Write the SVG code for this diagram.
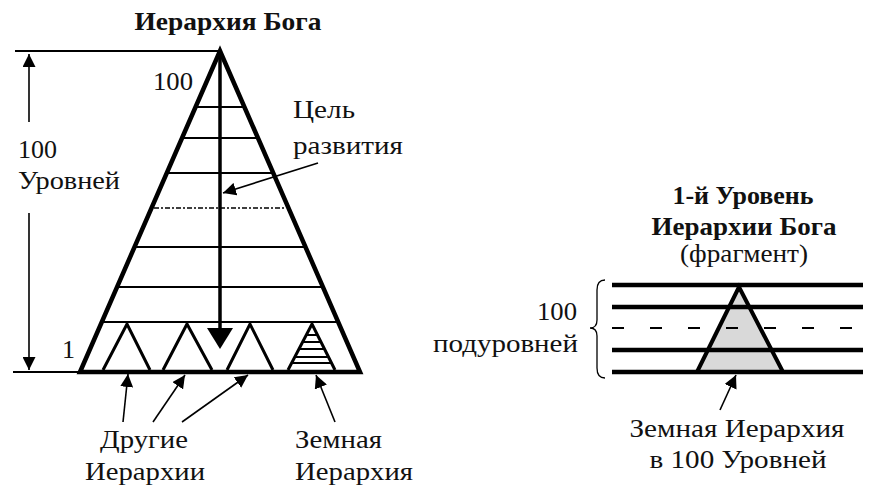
<svg xmlns="http://www.w3.org/2000/svg" width="882" height="500" viewBox="0 0 882 500">
<style>
  text { font-family: "Liberation Serif", "Times New Roman", serif; fill: #111; }
  .t { font-size: 26px; }
  .b { font-size: 26px; font-weight: bold; }
  .thick { stroke: #000; stroke-width: 4.5; fill: none; stroke-linejoin: miter; }
  .mid { stroke: #000; stroke-width: 3; fill: none; }
  .thin { stroke: #000; stroke-width: 2; fill: none; }
  .lead { stroke: #000; stroke-width: 1.6; fill: none; }
</style>
<defs>
  <marker id="ahL" viewBox="0 0 10 10" refX="10" refY="5" markerWidth="13" markerHeight="13" markerUnits="userSpaceOnUse" orient="auto">
    <path d="M0,0 L10,5 L0,10 z" fill="#000"/>
  </marker>
</defs>
<rect width="882" height="500" fill="#fff"/>

<g id="title">
  <text class="b" x="228" y="30" text-anchor="middle" textLength="187" lengthAdjust="spacingAndGlyphs">Иерархия Бога</text>
</g>

<g id="pyramid">
  <line class="thin" x1="195.6" y1="107" x2="244.4" y2="107"/>
  <line class="thin" x1="182" y1="138" x2="258" y2="138"/>
  <line class="thin" x1="167" y1="173" x2="273" y2="173"/>
  <line x1="154" y1="208" x2="286" y2="208" stroke="#000" stroke-width="1.5" stroke-dasharray="5 2 2 2"/>
  <line class="thin" x1="134.5" y1="247" x2="305.5" y2="247"/>
  <line class="thin" x1="117" y1="287" x2="323" y2="287"/>
  <line class="thin" x1="102" y1="322" x2="338" y2="322"/>
  <path class="thick" d="M80,372 L220,51 L360,372 Z"/>
  <line x1="220" y1="51" x2="220" y2="330" stroke="#000" stroke-width="3.5"/>
  <path d="M207,328 L233,328 L220,349 Z" fill="#000"/>
  <text class="t" x="153" y="90" textLength="40" lengthAdjust="spacingAndGlyphs">100</text>
  <text class="t" x="62" y="358">1</text>
</g>

<g id="sub-hierarchies">
  <path class="mid" d="M103,370 L127,324 L150,370"/>
  <path class="mid" d="M163,370 L187,324 L212,370"/>
  <path class="mid" d="M227,370 L250,324 L273,370"/>
  <path class="mid" d="M288,370 L312,324 L335,370"/>
  <g class="thin">
    <line x1="306" y1="335" x2="318" y2="335"/>
    <line x1="302.5" y1="342" x2="321.5" y2="342"/>
    <line x1="299" y1="349" x2="325" y2="349"/>
    <line x1="295" y1="357" x2="329" y2="357"/>
    <line x1="292" y1="363" x2="332" y2="363"/>
  </g>
</g>

<g id="levels-scale">
  <line class="thin" x1="15" y1="51" x2="220" y2="51"/>
  <line class="thin" x1="13" y1="372" x2="80" y2="372"/>
  <text class="t" x="18" y="158" textLength="39" lengthAdjust="spacingAndGlyphs">100</text>
  <text class="t" x="18" y="189" textLength="102" lengthAdjust="spacingAndGlyphs">Уровней</text>
</g>

<g id="goal-label">
  <text class="t" x="293" y="118" textLength="62" lengthAdjust="spacingAndGlyphs">Цель</text>
  <text class="t" x="293" y="154" textLength="110" lengthAdjust="spacingAndGlyphs">развития</text>
</g>

<g id="bottom-labels">
  <text class="t" x="100" y="448" textLength="88" lengthAdjust="spacingAndGlyphs">Другие</text>
  <text class="t" x="85" y="480" textLength="120" lengthAdjust="spacingAndGlyphs">Иерархии</text>
  <text class="t" x="295" y="448" textLength="87" lengthAdjust="spacingAndGlyphs">Земная</text>
  <text class="t" x="295" y="480" textLength="118" lengthAdjust="spacingAndGlyphs">Иерархия</text>
</g>

<g id="fragment">
  <text class="b" x="743" y="204" text-anchor="middle" textLength="141" lengthAdjust="spacingAndGlyphs">1-й Уровень</text>
  <text class="b" x="744" y="235" text-anchor="middle" textLength="185" lengthAdjust="spacingAndGlyphs">Иерархии Бога</text>
  <text class="t" x="744" y="262" text-anchor="middle" textLength="128" lengthAdjust="spacingAndGlyphs">(фрагмент)</text>
  <path d="M697,372 L739,287 L783,372 Z" fill="#d9d9d9"/>
  <g class="thick">
    <line x1="612" y1="285" x2="863" y2="285"/>
    <line x1="612" y1="307" x2="863" y2="307"/>
    <line x1="612" y1="350" x2="863" y2="350"/>
    <line x1="612" y1="372" x2="863" y2="372"/>
  </g>
  <line x1="612" y1="328" x2="863" y2="328" stroke="#000" stroke-width="2" stroke-dasharray="12 26"/>
  <path d="M697,372 L739,287 L783,372 Z" fill="none" stroke="#000" stroke-width="4"/>
  <path d="M605,280 Q597,280 597,290 L597,320 Q597,328 590,328 Q597,328 597,336 L597,368 Q597,378 605,378" stroke="#000" stroke-width="1.3" fill="none"/>
  <text class="t" x="577" y="320" text-anchor="end" textLength="40" lengthAdjust="spacingAndGlyphs">100</text>
  <text class="t" x="578" y="352" text-anchor="end" textLength="145" lengthAdjust="spacingAndGlyphs">подуровней</text>
  <text class="t" x="737" y="437" text-anchor="middle" textLength="215" lengthAdjust="spacingAndGlyphs">Земная Иерархия</text>
  <text class="t" x="738" y="468" text-anchor="middle" textLength="177" lengthAdjust="spacingAndGlyphs">в 100 Уровней</text>
</g>

<g id="connectors">
  <line class="lead" x1="29" y1="122" x2="29" y2="54" marker-end="url(#ahL)"/>
  <line class="lead" x1="29" y1="213" x2="29" y2="370" marker-end="url(#ahL)"/>
  <line class="lead" x1="318" y1="163" x2="223" y2="193" marker-end="url(#ahL)"/>
  <line class="lead" x1="123" y1="422" x2="128" y2="374" marker-end="url(#ahL)"/>
  <line class="lead" x1="153" y1="422" x2="185" y2="375" marker-end="url(#ahL)"/>
  <line class="lead" x1="182" y1="422" x2="248" y2="375" marker-end="url(#ahL)"/>
  <line class="lead" x1="335" y1="422" x2="316" y2="375" marker-end="url(#ahL)"/>
  <line class="lead" x1="720" y1="410" x2="736" y2="375" marker-end="url(#ahL)"/>
</g>
</svg>
